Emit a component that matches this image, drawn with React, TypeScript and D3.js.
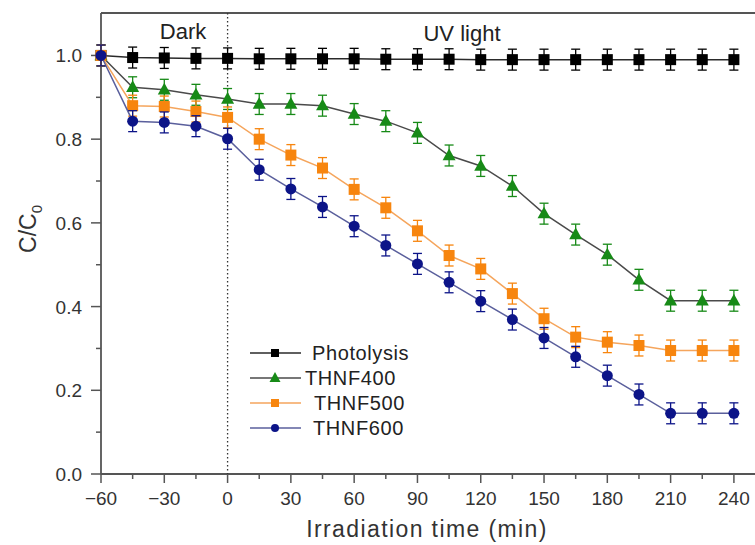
import * as d3 from 'd3';

// time points (min), dark period from -60 to 0
const times = [-60, -45, -30, -15, 0, 15, 30, 45, 60, 75, 90, 105, 120, 135, 150, 165, 180, 195, 210, 225, 240];

const photolysis = [1.0, 0.995, 0.994, 0.993, 0.993, 0.992, 0.992, 0.992, 0.992, 0.991, 0.991, 0.991, 0.99, 0.99, 0.99, 0.99, 0.99, 0.99, 0.99, 0.99, 0.99];
const thnf400 = [1.0, 0.924, 0.918, 0.906, 0.896, 0.884, 0.884, 0.88, 0.86, 0.843, 0.815, 0.761, 0.736, 0.688, 0.622, 0.572, 0.524, 0.464, 0.414, 0.414, 0.414];
const thnf500 = [1.0, 0.88, 0.878, 0.866, 0.852, 0.8, 0.762, 0.731, 0.68, 0.636, 0.581, 0.522, 0.49, 0.431, 0.371, 0.327, 0.315, 0.307, 0.295, 0.295, 0.295];
const thnf600 = [1.0, 0.843, 0.84, 0.831, 0.801, 0.727, 0.681, 0.638, 0.592, 0.546, 0.502, 0.458, 0.413, 0.369, 0.325, 0.28, 0.235, 0.19, 0.145, 0.145, 0.145];

const errorBar = 0.025;

const xTicks = [-60, -30, 0, 30, 60, 90, 120, 150, 180, 210, 240];
const xMinor = [-45, -15, 15, 45, 75, 105, 135, 165, 195, 225];
const yTicks = [0, 0.2, 0.4, 0.6, 0.8, 1.0];
const yMinor = [0.1, 0.3, 0.5, 0.7, 0.9];

const series = [
  { name: 'Photolysis', values: photolysis, shape: 'square', fill: '#000000', line: '#2a2a2a', size: 11 },
  { name: 'THNF400', values: thnf400, shape: 'triangle', fill: '#178a17', line: '#4a4a4a', size: 13 },
  { name: 'THNF500', values: thnf500, shape: 'square', fill: '#f7850e', line: '#f5a55c', size: 11 },
  { name: 'THNF600', values: thnf600, shape: 'circle', fill: '#0c1488', line: '#5a5f9c', size: 11 },
];

const W = 755;
const H = 545;
const x = d3.scaleLinear().domain([-60, 250]).range([101, 755]);
const y = d3.scaleLinear().domain([0, 1.1]).range([474, 13.6]);
const font = 'Liberation Sans, Arial, sans-serif';

function Marker({ shape, cx, cy, size, fill }: { shape: string; cx: number; cy: number; size: number; fill: string }) {
  if (shape === 'square') {
    return <rect x={cx - size / 2} y={cy - size / 2} width={size} height={size} fill={fill} />;
  }
  if (shape === 'circle') {
    return <circle cx={cx} cy={cy} r={size / 2} fill={fill} />;
  }
  const h = size * 0.9;
  const p = `M${cx},${cy - h * 0.6}L${cx + size / 2},${cy + h * 0.4}L${cx - size / 2},${cy + h * 0.4}Z`;
  return <path d={p} fill={fill} />;
}

export default function App() {
  const line = d3.line<number>().x((_, i) => x(times[i])).y((d) => y(d));
  const axisColor = '#555';
  const legendY = [353, 378, 403, 428];
  const legendTextX = [312, 305, 314, 313];

  return (
    <svg width={W} height={H} style={{ position: 'absolute', left: 0, top: 0, background: '#fff' }}>
      {/* frame */}
      <line x1={x(-60)} x2={W} y1={13} y2={13} stroke={axisColor} strokeWidth={2} />
      <line x1={x(-60)} x2={x(-60)} y1={13} y2={y(0)} stroke={axisColor} strokeWidth={1.8} />
      <line x1={x(-60)} x2={W} y1={y(0)} y2={y(0)} stroke={axisColor} strokeWidth={1.8} />

      {/* dark / light separator */}
      <line x1={x(0)} x2={x(0)} y1={13} y2={y(0)} stroke="#333" strokeWidth={1.3} strokeDasharray="1.5,2.5" />

      {/* y ticks */}
      {yTicks.map((t) => (
        <g key={'y' + t}>
          <line x1={x(-60) - 10} x2={x(-60)} y1={y(t)} y2={y(t)} stroke={axisColor} strokeWidth={1.5} />
          <text x={82} y={y(t) + 7} textAnchor="end" fontSize={19} fill="#333" fontFamily={font}>
            {d3.format('.1f')(t)}
          </text>
        </g>
      ))}
      {yMinor.map((t) => (
        <line key={'ym' + t} x1={x(-60) - 5} x2={x(-60)} y1={y(t)} y2={y(t)} stroke={axisColor} strokeWidth={1.5} />
      ))}

      {/* x ticks */}
      {xTicks.map((t) => (
        <g key={'x' + t}>
          <line x1={x(t)} x2={x(t)} y1={y(0)} y2={y(0) + 9} stroke={axisColor} strokeWidth={1.5} />
          <text x={x(t)} y={505} textAnchor="middle" fontSize={19} fill="#333" fontFamily={font}>
            {d3.format('')(t)}
          </text>
        </g>
      ))}
      {xMinor.map((t) => (
        <line key={'xm' + t} x1={x(t)} x2={x(t)} y1={y(0)} y2={y(0) + 5} stroke={axisColor} strokeWidth={1.5} />
      ))}

      {/* axis titles */}
      <text x={427} y={537} textAnchor="middle" fontSize={23} letterSpacing={1.4} fill="#333" fontFamily={font}>
        Irradiation time (min)
      </text>
      <text transform="translate(36,229) rotate(-90)" textAnchor="middle" fontSize={23} fill="#333" fontFamily={font}>
        C/C<tspan fontSize={15} dy={6}>0</tspan>
      </text>

      {/* region labels */}
      <text x={183} y={39} textAnchor="middle" fontSize={22} fill="#222" fontFamily={font}>Dark</text>
      <text x={462} y={41} textAnchor="middle" fontSize={22} fill="#222" fontFamily={font}>UV light</text>

      {/* series */}
      {series.map((s) => (
        <g key={s.name}>
          <path d={line(s.values) || ''} fill="none" stroke={s.line} strokeWidth={1.5} />
          {s.values.map((v, i) => {
            const cx = x(times[i]);
            const top = y(v + errorBar);
            const bot = y(v - errorBar);
            return (
              <g key={i} stroke={s.fill} strokeWidth={1.3}>
                <line x1={cx} x2={cx} y1={top} y2={bot} />
                <line x1={cx - 4.5} x2={cx + 4.5} y1={top} y2={top} />
                <line x1={cx - 4.5} x2={cx + 4.5} y1={bot} y2={bot} />
              </g>
            );
          })}
          {s.values.map((v, i) => (
            <Marker key={'m' + i} shape={s.shape} cx={x(times[i])} cy={y(v)} size={s.size} fill={s.fill} />
          ))}
        </g>
      ))}

      {/* legend */}
      {series.map((s, i) => (
        <g key={'lg' + s.name}>
          <line x1={250} x2={301} y1={legendY[i]} y2={legendY[i]} stroke={s.line} strokeWidth={1.5} />
          <Marker shape={s.shape} cx={275} cy={legendY[i]} size={s.shape === 'triangle' ? 11 : 8} fill={s.fill} />
          <text x={legendTextX[i]} y={legendY[i] + 7} fontSize={20} letterSpacing={0.6} fill="#222" fontFamily={font}>
            {s.name}
          </text>
        </g>
      ))}
    </svg>
  );
}
